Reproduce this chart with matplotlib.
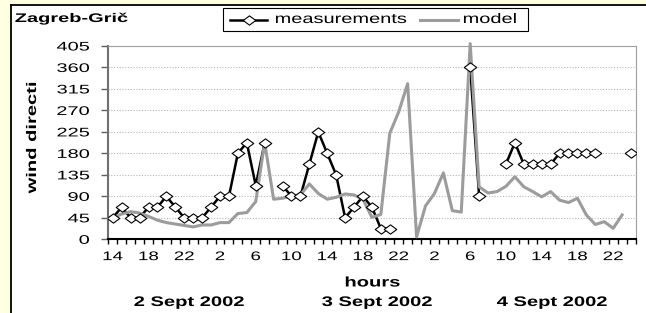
import numpy as np
import matplotlib
matplotlib.use("Agg")
import matplotlib.pyplot as plt
from matplotlib.path import Path
from matplotlib.patches import Rectangle
from matplotlib.lines import Line2D
from matplotlib.patheffects import AbstractPathEffect
from matplotlib.transforms import Affine2D

plt.rcParams['font.family'] = ['Liberation Sans', 'DejaVu Sans']

# hourly categories, 14h on 2 Sept 2002 .. 0h on 5 Sept 2002
n_hours = 59
tick_pos = list(range(0, 57, 4))
tick_labels = ['14', '18', '22', '2', '6', '10', '14', '18', '22', '2', '6', '10', '14', '18', '22']

nan = np.nan
measurements = [45, 67.5, 45, 45, 67.5, 67.5, 90, 67.5, 45, 45, 45, 67.5, 90, 90, 180, 202.5, 112.5, 202.5,
                nan,
                112.5, 90, 90, 157.5, 225, 180, 135, 45, 67.5, 90, 67.5, 22.5, 22.5,
                nan, nan, nan, nan, nan, nan, nan, nan,
                360, 90, nan, nan,
                157.5, 202.5, 157.5, 157.5, 157.5, 157.5, 180, 180, 180, 180, 180,
                nan, nan, nan, 180]
model = [45, 53, 58, 55, 48, 40, 35, 32, 29, 26, 30, 30, 35, 35, 54, 56, 79, 203,
         84, 86, 91, 93, 116, 96, 84, 88, 95, 93, 84, 46,
         52, 222, 267, 326, 5, 70, 96, 139, 60, 57,
         410, 110, 97, 100, 111, 131, 110, 100, 89, 100, 82, 77, 86, 51, 31, 37, 23, 51]

days = ['2 Sept 2002', '3 Sept 2002', '4 Sept 2002']
day_x = [189, 377, 552]  # pixel centres


class Stretch(AbstractPathEffect):
    """draw text wider along its own direction (the source font is wide)"""
    def __init__(self, sx, anchor='left'):
        super().__init__()
        self.sx = sx
        self.anchor = anchor

    def draw_path(self, renderer, gc, tpath, affine, rgbFace=None):
        ext = tpath.get_extents()
        cx = {'left': ext.x0, 'center': (ext.x0 + ext.x1) / 2, 'right': ext.x1}[self.anchor]
        tr = Affine2D().translate(-cx, 0).scale(self.sx, 1).translate(cx, 0) + affine
        renderer.draw_path(gc, tpath, tr, rgbFace)


W, H = 646, 313
fx = lambda px: px / W
fy = lambda py: 1 - py / H

diamond = Path([(0, 1), (1.35, 0), (0, -1), (-1.35, 0), (0, 1)],
               [Path.MOVETO, Path.LINETO, Path.LINETO, Path.LINETO, Path.CLOSEPOLY])

fig = plt.figure(figsize=(W / 100, H / 100), dpi=100)
fig.patch.set_facecolor('#FFFFE1')
fig.add_artist(Rectangle((fx(10.5), 0), 1, fy(4.5), transform=fig.transFigure,
                         facecolor='white', edgecolor='none', zorder=0))
fig.add_artist(Line2D([fx(10.5), fx(10.5)], [0, fy(4.5)], color='black', lw=1.3))
fig.add_artist(Line2D([fx(10.5), 1], [fy(4.5), fy(4.5)], color='black', lw=1.3))

ax = fig.add_axes([fx(108.3), fy(239.3), (635.5 - 108.3) / W, (239.3 - 46) / H])
ax.set_facecolor('white')

x = np.arange(n_hours)
ax.plot(x, measurements, color='black', lw=1.8, zorder=3)
ax.plot(x[:len(model)], model, color='#9C9C9C', lw=2.2, zorder=4, clip_on=False)
ax.plot(x, measurements, linestyle='none', marker=diamond, ms=9, mfc='white',
        mec='black', mew=0.8, zorder=5)

ax.set_xlim(-0.5, n_hours - 0.5)
ax.set_ylim(0, 405)
ax.set_yticks(np.arange(0, 406, 45))
ax.set_xticks(tick_pos, tick_labels)
ax.set_xticks(np.arange(-0.5, n_hours, 1), minor=True)
ax.tick_params(axis='x', which='major', length=0, pad=8.5, labelsize=9)
ax.tick_params(axis='x', which='minor', length=3.5, width=1, color='black')
ax.tick_params(axis='y', length=5, width=1, pad=8.5, labelsize=9, color='#606060')
ax.grid(axis='y', linestyle=(0, (1, 1.5)), color='#B8B8B8', linewidth=0.8)
ax.set_axisbelow(True)

ax.spines['left'].set_color('#707070')
ax.spines['left'].set_linewidth(1.5)
ax.spines['bottom'].set_color('black')
ax.spines['bottom'].set_linewidth(1.5)
for s in ('top', 'right'):
    ax.spines[s].set_color('#A0A0A0')
    ax.spines[s].set_linewidth(0.8)

for lab in ax.get_yticklabels():
    lab.set_path_effects([Stretch(1.6, 'right')])
for lab in ax.get_xticklabels():
    lab.set_path_effects([Stretch(1.5, 'center')])

# legend, drawn by hand so the wide text fits the box
fig.add_artist(Rectangle((fx(223), fy(30.7)), (528 - 223) / W, (30.7 - 8.3) / H,
                         transform=fig.transFigure, facecolor='white',
                         edgecolor='black', lw=0.8, zorder=6))
fig.add_artist(Line2D([fx(230), fx(248.5), fx(267)], [fy(19.5)] * 3, color='black', lw=1.8,
                      marker=diamond, markevery=[1], ms=9, mfc='white', mec='black',
                      mew=0.8, zorder=7))
fig.add_artist(Line2D([fx(420), fx(458)], [fy(19.5)] * 2, color='#9C9C9C', lw=2.2, zorder=7))
fig.text(fx(275), fy(23), 'measurements', fontsize=10, va='baseline', ha='left', zorder=7,
         path_effects=[Stretch(1.44, 'left')])
fig.text(fx(463), fy(23), 'model', fontsize=10, va='baseline', ha='left', zorder=7,
         path_effects=[Stretch(1.44, 'left')])

fig.text(fx(15), fy(22), 'Zagreb-Grič', fontsize=9, weight='bold', va='baseline', ha='left',
         path_effects=[Stretch(1.6, 'left')])
fig.text(fx(32), fy(137.5), 'wind directi', fontsize=10, weight='bold', rotation=90,
         ha='center', va='center', path_effects=[Stretch(1.45, 'center')])
fig.text(fx(372.5), fy(286.5), 'hours', fontsize=10, weight='bold', ha='center', va='baseline',
         path_effects=[Stretch(1.45, 'center')])
for d, px in zip(days, day_x):
    fig.text(fx(px), fy(306), d, fontsize=10, weight='bold', ha='center', va='baseline',
             path_effects=[Stretch(1.45, 'center')])

fig.savefig('out.png', dpi=100, facecolor=fig.get_facecolor())
